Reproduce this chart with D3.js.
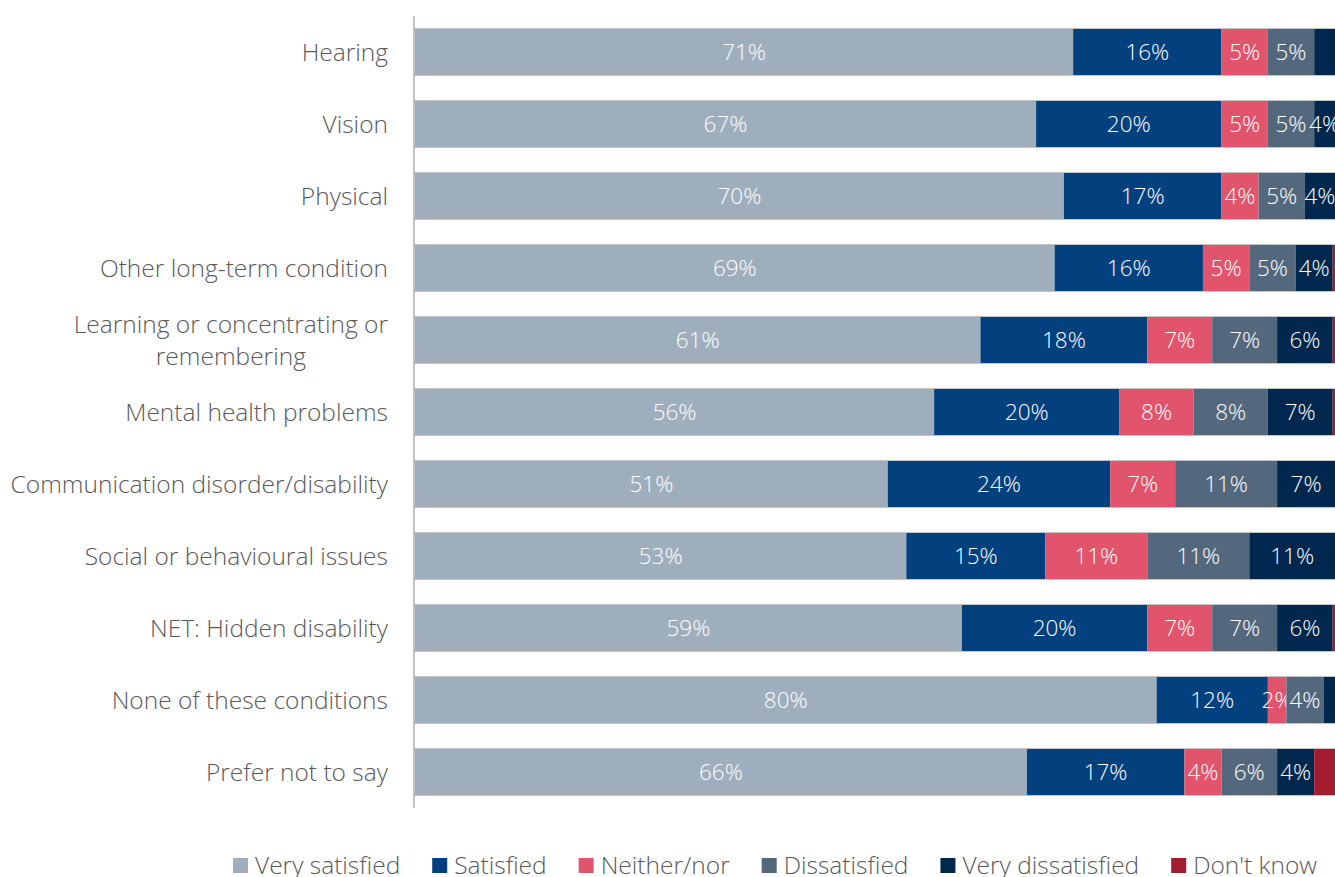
<!DOCTYPE html>
<html>
<head>
<meta charset="utf-8">
<script src="https://cdn.jsdelivr.net/npm/d3@7/dist/d3.min.js"></script>
<style>
  html, body { margin: 0; padding: 0; background: #ffffff; }
  svg { display: block; font-family: "Open Sans", "Noto Sans", sans-serif; font-weight: 300; }
</style>
</head>
<body>
<svg id="chart" width="1335" height="877"></svg>
<script>
// Satisfaction by disability type (percent of respondents)
const categories = [
  "Hearing",
  "Vision",
  "Physical",
  "Other long-term condition",
  "Learning or concentrating or|remembering",
  "Mental health problems",
  "Communication disorder/disability",
  "Social or behavioural issues",
  "NET: Hidden disability",
  "None of these conditions",
  "Prefer not to say"
];
const seriesNames = ["Very satisfied", "Satisfied", "Neither/nor", "Dissatisfied", "Very dissatisfied", "Don't know"];
const verySatisfied    = [71, 67, 70, 69, 61, 56, 51, 53, 59, 80, 66];
const satisfied        = [16, 20, 17, 16, 18, 20, 24, 15, 20, 12, 17];
const neitherNor       = [5, 5, 4, 5, 7, 8, 7, 11, 7, 2, 4];
const dissatisfied     = [5, 5, 5, 5, 7, 8, 11, 11, 7, 4, 6];
const veryDissatisfied = [3, 4, 4, 4, 6, 7, 7, 11, 6, 2, 4];
const dontKnow         = [0, 0, 0, 1, 1, 1, 0, 0, 1, 0, 3];
const seriesColors = ["#9eaebd", "#02407e", "#e2546b", "#53687d", "#00274d", "#a31c2f"];
// smallest value that gets a data label, per series
const minLabel = [0, 0, 0, 0, 4, Infinity];

const seriesValues = [verySatisfied, satisfied, neitherNor, dissatisfied, veryDissatisfied, dontKnow];

const rows = categories.map((c, i) => {
  const r = { category: c };
  seriesNames.forEach((s, k) => { r[s] = seriesValues[k][i]; });
  return r;
});

const stack = d3.stack().keys(seriesNames)(rows);

const W = 1335;
const svg = d3.select("#chart");
const x = d3.scaleLinear().domain([0, 100]).range([415, 1342]);
const y = d3.scaleBand().domain(categories).range([16, 808]).paddingInner(1 / 3).paddingOuter(1 / 6);
const visEnd = v => Math.min(x(v), W);

// stacked segments
const layers = svg.append("g").selectAll("g")
  .data(stack)
  .join("g")
  .attr("fill", (d, k) => seriesColors[k]);

layers.selectAll("rect")
  .data(d => d)
  .join("rect")
  .attr("x", d => x(d[0]))
  .attr("y", d => y(d.data.category))
  .attr("width", d => x(d[1]) - x(d[0]))
  .attr("height", y.bandwidth());

// thin light edge along the top and bottom of each bar
const edges = svg.append("g").attr("stroke", "#c4c4c4").attr("stroke-width", 1.2);
categories.forEach(c => {
  edges.append("line").attr("x1", x(0)).attr("x2", W).attr("y1", y(c) + 0.5).attr("y2", y(c) + 0.5);
  edges.append("line").attr("x1", x(0)).attr("x2", W).attr("y1", y(c) + y.bandwidth() - 0.5).attr("y2", y(c) + y.bandwidth() - 0.5);
});

// value labels, centred on the visible part of each segment
layers.each(function (layer, k) {
  d3.select(this).selectAll("text")
    .data(layer.filter(d => (d[1] - d[0]) > 0 && (d[1] - d[0]) >= minLabel[k]))
    .join("text")
    .attr("x", d => (visEnd(d[0]) + visEnd(d[1])) / 2)
    .attr("y", d => y(d.data.category) + y.bandwidth() / 2)
    .attr("dy", "0.36em")
    .attr("text-anchor", "middle")
    .attr("fill", "#ffffff")
    .attr("font-size", 22.5)
    .text(d => (d[1] - d[0]) + "%");
});

// category axis
const axis = svg.append("g").attr("transform", `translate(${x(0) - 1},0)`)
  .call(d3.axisLeft(y).tickSize(0).tickFormat(() => ""));
axis.select(".domain").attr("stroke", "#c0c0c0").attr("stroke-width", 2).attr("d", "M0,16V808");

const labelRight = 388;
const labels = svg.append("g");
categories.forEach(c => {
  const lines = c.split("|");
  const lh = 32;
  const cy = y(c) + y.bandwidth() / 2;
  const texts = lines.map((ln, j) => labels.append("text")
    .attr("y", cy + (j - (lines.length - 1) / 2) * lh)
    .attr("dy", "0.36em")
    .attr("fill", "#595959")
    .attr("font-size", 24.5)
    .text(ln));
  const maxW = d3.max(texts.map(tx => tx.node().getComputedTextLength()));
  texts.forEach(tx => tx.attr("text-anchor", "middle").attr("x", labelRight - maxW / 2));
});

// legend
const legend = svg.append("g");
let lx = 233;
const ly = 865;
seriesNames.forEach((s, k) => {
  legend.append("rect").attr("x", lx).attr("y", ly - 7).attr("width", 15).attr("height", 15).attr("fill", seriesColors[k]);
  const t = legend.append("text")
    .attr("x", lx + 22).attr("y", ly).attr("dy", "0.36em")
    .attr("fill", "#595959").attr("font-size", 24.5).text(s);
  lx += 22 + t.node().getComputedTextLength() + 32;
});
</script>
</body>
</html>
